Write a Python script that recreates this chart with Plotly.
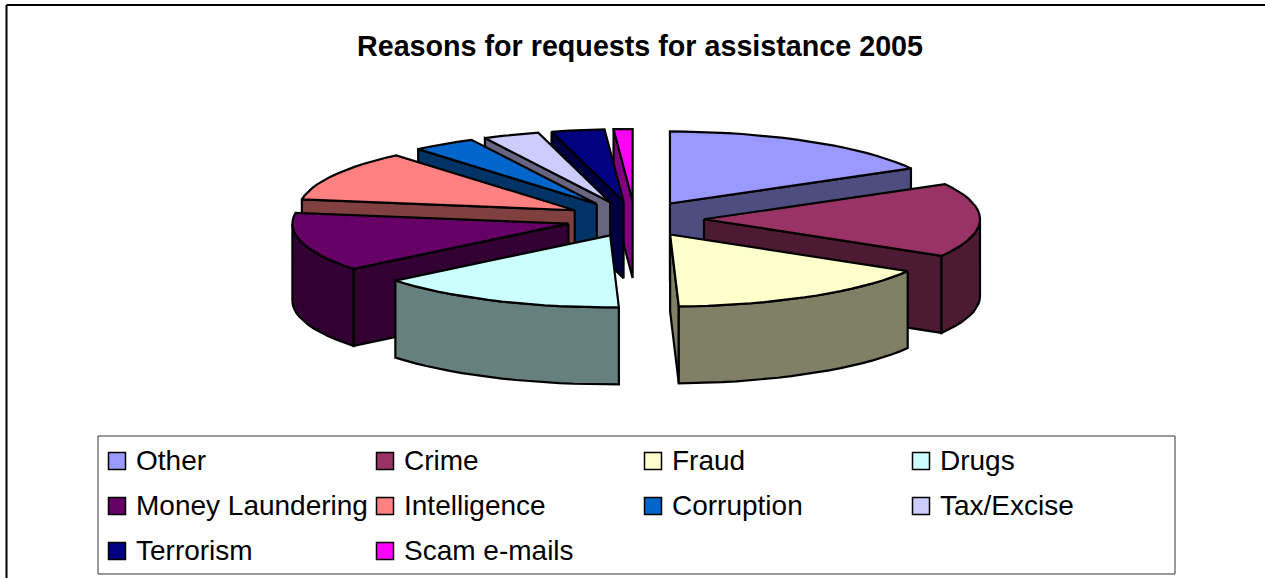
import math
import plotly.graph_objects as go

# Shares of requests for assistance, percent
categories = ["Other", "Crime", "Fraud", "Drugs", "Money Laundering",
              "Intelligence", "Corruption", "Tax/Excise", "Terrorism", "Scam e-mails"]
shares = [16.9, 16.6, 16.0, 14.7, 13.2, 11.4, 3.7, 3.3, 3.1, 1.1]
top_colors = ["#9999FF", "#993366", "#FFFFCC", "#CCFFFF", "#660066",
              "#FF8080", "#0066CC", "#CCCCFF", "#000080", "#FF00FF"]
side_colors = ["#4D4D80", "#4D1A33", "#808066", "#668080", "#330033",
               "#804040", "#003366", "#666680", "#000040", "#800080"]

WIDTH, HEIGHT = 1265, 578

# Oblique projection of the exploded disc, in pixels
CX, CY = 635.0, 219.0
RX, RY = 276.0, 72.0
EXPLODE = 0.25
DEPTH = 77.0
EDGE = 2.2
# Sideways pull of individual slices away from their exploded position
PULL_X = {"Drugs": 4.0}


def project(theta, radius=1.0):
    return radius * RX * math.sin(theta), -radius * RY * math.cos(theta)


def polygon(fig, points, fill):
    xs = [p[0] for p in points] + [points[0][0]]
    ys = [p[1] for p in points] + [points[0][1]]
    fig.add_trace(go.Scatter(x=xs, y=ys, mode="lines", fill="toself", fillcolor=fill,
                             line=dict(color="black", width=EDGE),
                             hoverinfo="skip", showlegend=False))


def drop(point):
    return point[0], point[1] + DEPTH


def draw_slice(fig, name, start, end, top, side):
    mid = (start + end) / 2
    ex, ey = project(mid, EXPLODE)
    apex = (CX + ex + PULL_X.get(name, 0.0), CY + ey)

    def rim(theta):
        dx, dy = project(theta)
        return apex[0] + dx, apex[1] + dy

    # Radial walls that face the viewer
    if math.sin(end) > 0:
        p = rim(end)
        polygon(fig, [apex, p, drop(p), drop(apex)], side)
    if math.sin(start) < 0:
        p = rim(start)
        polygon(fig, [apex, p, drop(p), drop(apex)], side)

    # Outer wall: only the part of the rim on the near half of the disc
    lo, hi = max(start, math.pi / 2), min(end, 3 * math.pi / 2)
    if lo < hi:
        n = max(2, int((hi - lo) / math.radians(3)))
        arc = [rim(lo + (hi - lo) * i / n) for i in range(n + 1)]
        polygon(fig, arc + [drop(p) for p in reversed(arc)], side)

    # Top face
    n = max(2, int((end - start) / math.radians(3)))
    arc = [rim(start + (end - start) * i / n) for i in range(n + 1)]
    polygon(fig, [apex] + arc, top)


fig = go.Figure()

total = sum(shares)
slices = []
angle = 0.0
for name, value, top, side in zip(categories, shares, top_colors, side_colors):
    sweep = 2 * math.pi * value / total
    slices.append((name, angle, angle + sweep, top, side))
    angle += sweep

# Paint from the back of the disc towards the viewer
for name, start, end, top, side in sorted(slices, key=lambda s: -math.cos((s[1] + s[2]) / 2)):
    draw_slice(fig, name, start, end, top, side)

# Legend grid
COLS = 4
legend_x = [117 + 268 * (i % COLS) for i in range(len(categories))]
legend_y = [461 + 45 * (i // COLS) for i in range(len(categories))]
fig.add_trace(go.Scatter(x=legend_x, y=legend_y, mode="markers", hoverinfo="skip", showlegend=False,
                         marker=dict(symbol="square", size=17, color=top_colors,
                                     line=dict(color="black", width=1.5))))
fig.add_trace(go.Scatter(x=[x + 19 for x in legend_x], y=[y + 2 for y in legend_y], mode="text",
                         text=categories, textposition="middle right", hoverinfo="skip", showlegend=False,
                         textfont=dict(family="Liberation Sans, Arial, sans-serif", size=28, color="black")))

fig.update_layout(
    width=WIDTH, height=HEIGHT,
    margin=dict(l=0, r=0, t=0, b=0),
    paper_bgcolor="white", plot_bgcolor="white",
    showlegend=False,
    title=dict(text="<b>Reasons for requests for assistance 2005</b>",
               x=640 / WIDTH, xanchor="center", y=1 - 46 / HEIGHT, yanchor="middle",
               font=dict(family="Liberation Sans, Arial, sans-serif", size=28.7, color="black")),
    xaxis=dict(range=[0, WIDTH], visible=False, fixedrange=True),
    yaxis=dict(range=[HEIGHT, 0], visible=False, fixedrange=True),
    shapes=[
        # Chart frame runs along the top and left only
        dict(type="line", xref="x", yref="y", x0=6.5, y0=5, x1=WIDTH, y1=5,
             line=dict(color="black", width=2), layer="below"),
        dict(type="line", xref="x", yref="y", x0=6.5, y0=5, x1=6.5, y1=HEIGHT,
             line=dict(color="black", width=2), layer="below"),
        dict(type="rect", xref="x", yref="y", x0=98, y0=436, x1=1175, y1=574,
             line=dict(color="#333333", width=1), fillcolor="white", layer="below"),
    ],
)

fig.write_html("out.html")
